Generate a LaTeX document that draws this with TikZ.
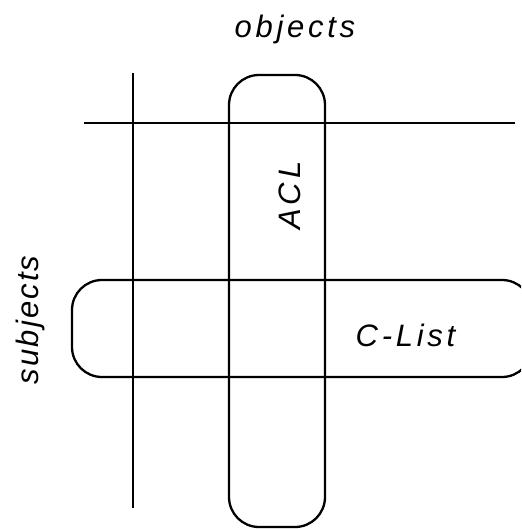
\documentclass[tikz,border=0pt]{standalone}
\usepackage{fontspec}
\setmainfont{Liberation Sans}[LetterSpace=12]
\newfontfamily\subjfont{Liberation Sans}[LetterSpace=7]
\begin{document}
\begin{tikzpicture}[x=1pt,y=-1pt,
  ln/.style={line width=2.3pt,line cap=butt},
  lab/.style={font=\itshape\fontsize{31}{36}\selectfont,inner sep=0pt,anchor=base}]
\useasboundingbox (0,0) rectangle (521,529);
\begin{scope}
\clip (0,0) rectangle (521,529);
\draw[ln,rounded corners=30pt] (229,75) rectangle (325,527);
\draw[ln,rounded corners=30pt] (72,280) rectangle (532,377);
\end{scope}
\coordinate (hl) at (84,123);
\coordinate (hr) at (515,123);
\coordinate (vt) at (133,73);
\coordinate (vb) at (133,508);
\draw[ln] (hl) -- (hr);
\draw[ln] (vt) -- (vb);
\node[lab] (obj) at (295,38) {objects};
\node[lab,rotate=90] (acl) at (300,195.5) {ACL};
\node[lab] (cl) at (405.5,346) {C-List};
\node[lab,rotate=90,font=\subjfont\itshape\fontsize{31}{36}\selectfont] (subj) at (38,320) {subjects};
\end{tikzpicture}
\end{document}
